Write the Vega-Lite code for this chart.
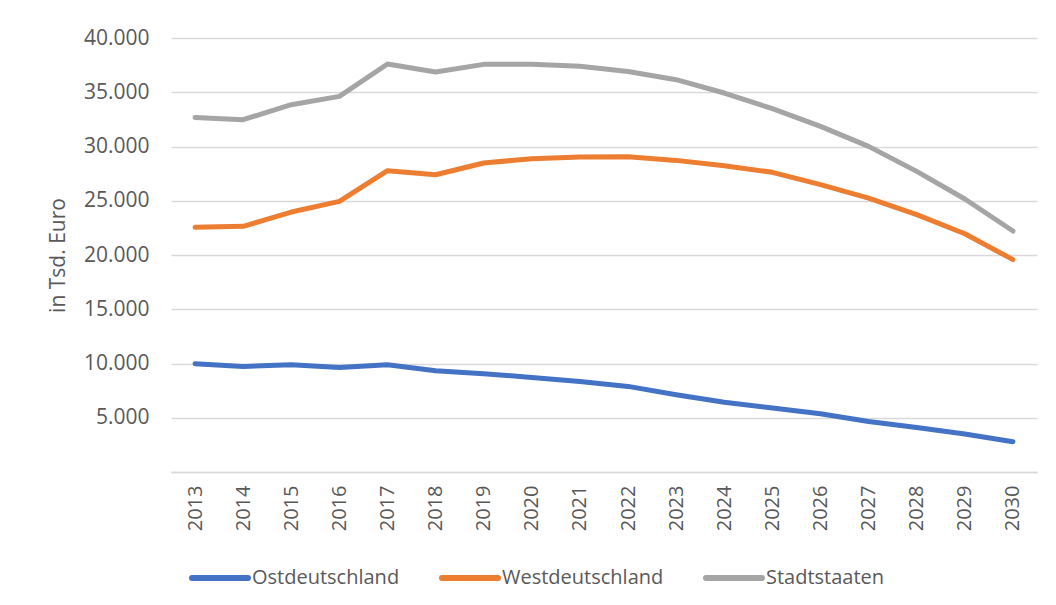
{
  "$schema": "https://vega.github.io/schema/vega-lite/v6.json",
  "width": 866,
  "height": 434,
  "autosize": {"type": "none"},
  "padding": {"left": 171, "top": 38, "right": 19, "bottom": 133},
  "background": "white",
  "config": {"view": {"stroke": null}, "font": "Open Sans"},
  "data": {
    "values": [
      {"Jahr": "2013", "Region": "Ostdeutschland", "Wert": 9980},
      {"Jahr": "2014", "Region": "Ostdeutschland", "Wert": 9730},
      {"Jahr": "2015", "Region": "Ostdeutschland", "Wert": 9890},
      {"Jahr": "2016", "Region": "Ostdeutschland", "Wert": 9640},
      {"Jahr": "2017", "Region": "Ostdeutschland", "Wert": 9890},
      {"Jahr": "2018", "Region": "Ostdeutschland", "Wert": 9340},
      {"Jahr": "2019", "Region": "Ostdeutschland", "Wert": 9060},
      {"Jahr": "2020", "Region": "Ostdeutschland", "Wert": 8720},
      {"Jahr": "2021", "Region": "Ostdeutschland", "Wert": 8350},
      {"Jahr": "2022", "Region": "Ostdeutschland", "Wert": 7890},
      {"Jahr": "2023", "Region": "Ostdeutschland", "Wert": 7120},
      {"Jahr": "2024", "Region": "Ostdeutschland", "Wert": 6420},
      {"Jahr": "2025", "Region": "Ostdeutschland", "Wert": 5900},
      {"Jahr": "2026", "Region": "Ostdeutschland", "Wert": 5370},
      {"Jahr": "2027", "Region": "Ostdeutschland", "Wert": 4660},
      {"Jahr": "2028", "Region": "Ostdeutschland", "Wert": 4110},
      {"Jahr": "2029", "Region": "Ostdeutschland", "Wert": 3500},
      {"Jahr": "2030", "Region": "Ostdeutschland", "Wert": 2790},
      {"Jahr": "2013", "Region": "Westdeutschland", "Wert": 22550},
      {"Jahr": "2014", "Region": "Westdeutschland", "Wert": 22640},
      {"Jahr": "2015", "Region": "Westdeutschland", "Wert": 23960},
      {"Jahr": "2016", "Region": "Westdeutschland", "Wert": 24940},
      {"Jahr": "2017", "Region": "Westdeutschland", "Wert": 27770},
      {"Jahr": "2018", "Region": "Westdeutschland", "Wert": 27400},
      {"Jahr": "2019", "Region": "Westdeutschland", "Wert": 28480},
      {"Jahr": "2020", "Region": "Westdeutschland", "Wert": 28880},
      {"Jahr": "2021", "Region": "Westdeutschland", "Wert": 29030},
      {"Jahr": "2022", "Region": "Westdeutschland", "Wert": 29060},
      {"Jahr": "2023", "Region": "Westdeutschland", "Wert": 28720},
      {"Jahr": "2024", "Region": "Westdeutschland", "Wert": 28230},
      {"Jahr": "2025", "Region": "Westdeutschland", "Wert": 27620},
      {"Jahr": "2026", "Region": "Westdeutschland", "Wert": 26480},
      {"Jahr": "2027", "Region": "Westdeutschland", "Wert": 25250},
      {"Jahr": "2028", "Region": "Westdeutschland", "Wert": 23720},
      {"Jahr": "2029", "Region": "Westdeutschland", "Wert": 21960},
      {"Jahr": "2030", "Region": "Westdeutschland", "Wert": 19570},
      {"Jahr": "2013", "Region": "Stadtstaaten", "Wert": 32680},
      {"Jahr": "2014", "Region": "Stadtstaaten", "Wert": 32470},
      {"Jahr": "2015", "Region": "Stadtstaaten", "Wert": 33850},
      {"Jahr": "2016", "Region": "Stadtstaaten", "Wert": 34620},
      {"Jahr": "2017", "Region": "Stadtstaaten", "Wert": 37600},
      {"Jahr": "2018", "Region": "Stadtstaaten", "Wert": 36870},
      {"Jahr": "2019", "Region": "Stadtstaaten", "Wert": 37570},
      {"Jahr": "2020", "Region": "Stadtstaaten", "Wert": 37570},
      {"Jahr": "2021", "Region": "Stadtstaaten", "Wert": 37390},
      {"Jahr": "2022", "Region": "Stadtstaaten", "Wert": 36920},
      {"Jahr": "2023", "Region": "Stadtstaaten", "Wert": 36160},
      {"Jahr": "2024", "Region": "Stadtstaaten", "Wert": 34930},
      {"Jahr": "2025", "Region": "Stadtstaaten", "Wert": 33490},
      {"Jahr": "2026", "Region": "Stadtstaaten", "Wert": 31860},
      {"Jahr": "2027", "Region": "Stadtstaaten", "Wert": 30010},
      {"Jahr": "2028", "Region": "Stadtstaaten", "Wert": 27710},
      {"Jahr": "2029", "Region": "Stadtstaaten", "Wert": 25160},
      {"Jahr": "2030", "Region": "Stadtstaaten", "Wert": 22210}
    ]
  },
  "mark": {"type": "line", "strokeWidth": 5, "strokeCap": "round", "strokeJoin": "round"},
  "encoding": {
    "x": {
      "field": "Jahr",
      "type": "ordinal",
      "scale": {"type": "point", "padding": 0.5},
      "axis": {
        "title": null,
        "labelAngle": 270,
        "labelPadding": 13,
        "labelFontSize": 20,
        "labelColor": "#595959",
        "ticks": false,
        "grid": false,
        "domainColor": "#d9d9d9",
        "domainWidth": 1.5
      }
    },
    "y": {
      "field": "Wert",
      "type": "quantitative",
      "scale": {"domain": [0, 40000], "nice": false},
      "axis": {
        "values": [0, 5000, 10000, 15000, 20000, 25000, 30000, 35000, 40000],
        "labelExpr": "datum.value == 0 ? '' : replace(format(datum.value, ','), ',', '.')",
        "domain": false,
        "ticks": false,
        "grid": true,
        "gridColor": "#d9d9d9",
        "gridWidth": 1.5,
        "labelPadding": 22,
        "labelFontSize": 21,
        "labelColor": "#595959",
        "title": "in Tsd. Euro",
        "titleFontSize": 21,
        "titleFontWeight": "normal",
        "titleColor": "#595959",
        "titleX": -103,
        "titleY": 217,
        "titleAngle": -90,
        "titleAlign": "center",
        "titleBaseline": "bottom"
      }
    },
    "color": {
      "field": "Region",
      "type": "nominal",
      "scale": {
        "domain": ["Ostdeutschland", "Westdeutschland", "Stadtstaaten"],
        "range": ["#4472C4", "#ED7D31", "#A5A5A5"]
      },
      "legend": {
        "title": null,
        "orient": "none",
        "legendX": 18,
        "legendY": 509,
        "direction": "horizontal",
        "symbolType": "stroke",
        "symbolSize": 3136,
        "symbolStrokeWidth": 6,
        "labelFontSize": 20,
        "labelColor": "#595959",
        "labelOffset": 1,
        "labelLimit": 0,
        "columnPadding": 30,
        "encode": {"symbols": {"update": {"strokeCap": {"value": "round"}}}}
      }
    }
  }
}
